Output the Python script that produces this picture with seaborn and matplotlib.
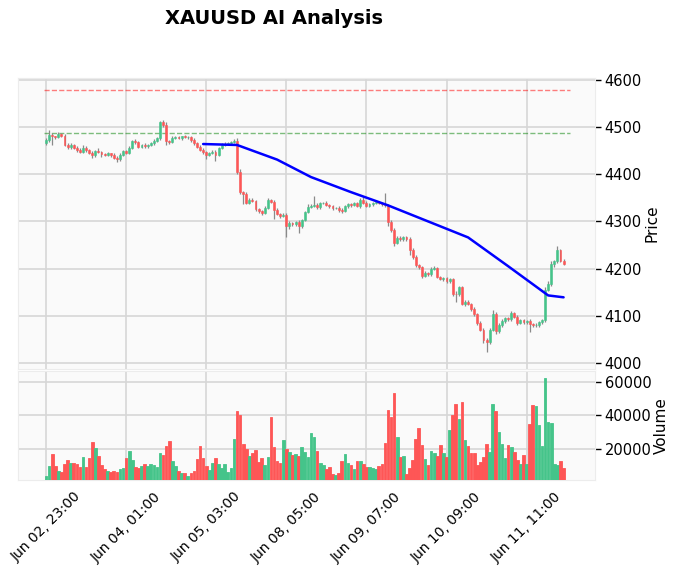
import numpy as np
import pandas as pd
import matplotlib
matplotlib.use('Agg')
import matplotlib.pyplot as plt
import seaborn as sns

# hourly candles, index based x axis (no weekend gaps)
first_open = 4466
closes = [4472, 4484, 4480, 4478, 4485, 4482, 4462, 4457, 4463, 4456,
          4452, 4448, 4456, 4452, 4446, 4440, 4449, 4447, 4443, 4441,
          4444, 4440, 4435, 4432, 4441, 4449, 4446, 4456, 4470, 4468,
          4458, 4462, 4459, 4461, 4466, 4470, 4476, 4510, 4504, 4470,
          4468, 4477, 4479, 4476, 4480, 4478, 4479, 4472, 4466, 4458,
          4452, 4447, 4441, 4445, 4448, 4441, 4456, 4463, 4465, 4466,
          4468, 4471, 4404, 4362, 4358, 4340, 4346, 4343, 4326, 4321,
          4318, 4328, 4345, 4342, 4325, 4316, 4312, 4314, 4290, 4296,
          4294, 4298, 4290, 4302, 4320, 4331, 4333, 4335, 4330, 4338,
          4339, 4335, 4332, 4328, 4329, 4325, 4321, 4332, 4336, 4335,
          4338, 4332, 4345, 4340, 4333, 4336, 4338, 4341, 4340, 4337,
          4334, 4298, 4282, 4254, 4265, 4262, 4266, 4262, 4240, 4224,
          4207, 4203, 4185, 4190, 4188, 4198, 4201, 4183, 4178, 4180,
          4173, 4177, 4147, 4145, 4160, 4125, 4130, 4125, 4115, 4103,
          4084, 4070, 4048, 4044, 4070, 4104, 4067, 4081, 4088, 4095,
          4092, 4105, 4098, 4085, 4090, 4086, 4088, 4082, 4080, 4080,
          4086, 4090, 4155, 4167, 4209, 4215, 4239, 4217, 4210]
wick_up = [4, 10, 3, 2, 4, 3, 3, 4, 3, 2,
           3, 4, 5, 3, 2, 4, 3, 6, 3, 2,
           3, 2, 4, 3, 5, 3, 2, 4, 3, 5,
           3, 2, 4, 3, 2, 4, 3, 2, 4, 6,
           2, 3, 2, 3, 2, 3, 2, 3, 4, 3,
           3, 4, 2, 3, 4, 3, 2, 3, 4, 3,
           3, 4, 5, 8, 3, 4, 3, 4, 3, 2,
           3, 4, 5, 3, 4, 3, 2, 4, 3, 4,
           3, 2, 4, 3, 2, 6, 3, 18, 3, 4,
           3, 4, 2, 3, 2, 3, 4, 3, 2, 3,
           3, 4, 5, 6, 3, 2, 3, 4, 3, 2,
           24, 3, 4, 3, 5, 4, 3, 2, 4, 3,
           4, 3, 2, 4, 3, 6, 4, 3, 2, 3,
           3, 4, 3, 5, 4, 3, 4, 3, 2, 3,
           3, 4, 3, 4, 3, 8, 4, 3, 4, 3,
           3, 4, 3, 4, 3, 4, 3, 4, 3, 4,
           3, 4, 5, 6, 8, 4, 8, 3, 4]
wick_dn = [3, 4, 18, 3, 2, 4, 3, 4, 3, 2,
           4, 3, 2, 4, 3, 5, 3, 2, 6, 3,
           2, 4, 3, 6, 3, 2, 4, 3, 2, 4,
           3, 2, 4, 3, 2, 3, 2, 3, 4, 8,
           3, 2, 3, 2, 3, 2, 3, 4, 3, 2,
           3, 4, 8, 3, 2, 12, 3, 2, 3, 2,
           3, 2, 3, 4, 22, 4, 3, 2, 4, 3,
           4, 3, 2, 3, 20, 3, 4, 3, 24, 6,
           4, 3, 14, 3, 2, 3, 2, 3, 4, 3,
           2, 3, 4, 3, 2, 5, 3, 2, 3, 4,
           3, 2, 3, 4, 3, 2, 3, 2, 3, 4,
           3, 8, 4, 6, 3, 4, 3, 4, 12, 3,
           4, 3, 6, 3, 4, 3, 2, 4, 3, 5,
           3, 4, 5, 15, 4, 3, 4, 3, 4, 3,
           4, 3, 5, 22, 4, 3, 5, 3, 4, 3,
           3, 4, 3, 4, 3, 4, 3, 16, 4, 3,
           4, 3, 4, 3, 4, 5, 3, 4, 3]
volumes = [3700, 9600, 16700, 9600, 6700, 6100, 10800, 13100, 11400, 11400,
           10800, 9000, 14900, 9000, 14300, 23700, 20200, 15500, 10200, 7800,
           6500, 6100, 6700, 6100, 7800, 8400, 14300, 18400, 13100, 9000,
           8400, 9600, 10800, 9600, 10800, 10200, 9000, 17200, 16100, 21400,
           24300, 12500, 9600, 6700, 5500, 5500, 3700, 5500, 6700, 13700,
           21400, 14300, 9600, 7300, 11400, 14300, 10800, 8400, 10800, 6100,
           8400, 25500, 42500, 40200, 22500, 19600, 15500, 17200, 19000, 12000,
           14300, 10200, 14900, 39000, 20800, 12500, 11400, 24900, 19600, 17800,
           16100, 16700, 15500, 20800, 17800, 15000, 29600, 26700, 18400, 11400,
           10200, 7800, 9000, 4900, 4300, 5500, 12500, 16700, 11400, 10200,
           7800, 12500, 12500, 10800, 9000, 9000, 8500, 7800, 9600, 11000,
           23100, 43100, 39000, 53100, 27200, 14900, 15500, 4900, 8400, 13100,
           25500, 32500, 22000, 13700, 10200, 18400, 17200, 15500, 22000, 17200,
           14900, 31400, 40200, 46600, 37800, 47800, 24900, 21400, 17200, 17200,
           10200, 12000, 14900, 22500, 18000, 46600, 42500, 30200, 22500, 14300,
           22000, 20800, 17800, 13100, 10800, 16100, 11000, 34900, 46100, 45500,
           34300, 21400, 62500, 36100, 35500, 10800, 10200, 12500, 8400]
tick_labels = ['Jun 02, 23:00', 'Jun 04, 01:00', 'Jun 05, 03:00', 'Jun 08, 05:00',
               'Jun 09, 07:00', 'Jun 10, 09:00', 'Jun 11, 11:00']
trend_idx = [51, 62, 75, 86, 99, 111, 124, 137, 150, 163, 168]
trend_val = [4464, 4462, 4431, 4394, 4362, 4334, 4300, 4266, 4205, 4143, 4139]
resistance = 4578
support = 4487

df = pd.DataFrame({'close': closes, 'volume': volumes})
df['open'] = [first_open] + closes[:-1]
df['high'] = df[['open', 'close']].max(axis=1) + np.array(wick_up)
df['low'] = df[['open', 'close']].min(axis=1) - np.array(wick_dn)
df['x'] = np.arange(len(df))
UP, DOWN = '#45c48a', '#fe5656'
df['color'] = np.where(df.close >= df.open, UP, DOWN)

sns.set_theme(style='whitegrid', rc={'axes.facecolor': '#fafafa', 'grid.color': '#d6d6d6',
                                     'axes.edgecolor': '#ececec', 'axes.linewidth': 0.8,
                                     'grid.linewidth': 1.2, 'text.color': 'black',
                                     'axes.labelcolor': 'black', 'xtick.color': 'black',
                                     'ytick.color': 'black'})
plt.rcParams['font.family'] = ['DejaVu Sans']

fig = plt.figure(figsize=(6.77, 5.74), dpi=100)
W, H = 677, 574
ax = fig.add_axes([18 / W, 1 - 369 / H, 577 / W, 291 / H])
axv = fig.add_axes([18 / W, 1 - 480 / H, 577 / W, 109 / H], sharex=ax)

# candles
ax.vlines(df.x, df.low, df.high, color='#8a8a8a', lw=0.9, zorder=2)
body = (df.close - df.open).abs().clip(lower=0.6)
ax.bar(df.x, body, bottom=df[['open', 'close']].min(axis=1), width=0.62,
       color=df.color, edgecolor=df.color, lw=0.4, zorder=3)
sns.lineplot(x=trend_idx, y=trend_val, ax=ax, color='blue', lw=1.8, zorder=4)
ax.hlines(resistance, -0.6, 170, colors='red', linestyles='--', lw=1, alpha=0.5, zorder=1)
ax.hlines(support, -0.6, 170, colors='green', linestyles='--', lw=1, alpha=0.5, zorder=1)

ax.set_xlim(-9.1, 178.2)
ax.set_ylim(3987, 4604)
ax.set_yticks(range(4000, 4601, 100))
ax.yaxis.tick_right()
ax.yaxis.set_label_position('right')
ax.set_ylabel('Price', fontsize=11, labelpad=2)
ax.tick_params(axis='x', labelbottom=False, length=0)
ax.tick_params(axis='y', length=4, width=1, labelsize=10.5, pad=3)

# volume
axv.bar(df.x, df.volume, width=0.85, color=df.color, edgecolor=df.color, lw=0.6, zorder=3)
axv.set_ylim(1200, 66400)
axv.set_yticks([20000, 40000, 60000])
axv.yaxis.tick_right()
axv.yaxis.set_label_position('right')
axv.set_ylabel('Volume', fontsize=11, labelpad=2)
axv.set_xticks(range(0, 157, 26))
axv.set_xticklabels(tick_labels, rotation=45, ha='center', fontsize=10)
axv.tick_params(axis='y', length=4, width=1, labelsize=10.5, pad=3)
axv.tick_params(axis='x', length=4, width=1, pad=3)

for a in (ax, axv):
    a.grid(True)

fig.text(0.405, 0.967, 'XAUUSD AI Analysis', ha='center', va='center',
         fontsize=14, fontweight='bold')

fig.savefig('out.png', dpi=100)
